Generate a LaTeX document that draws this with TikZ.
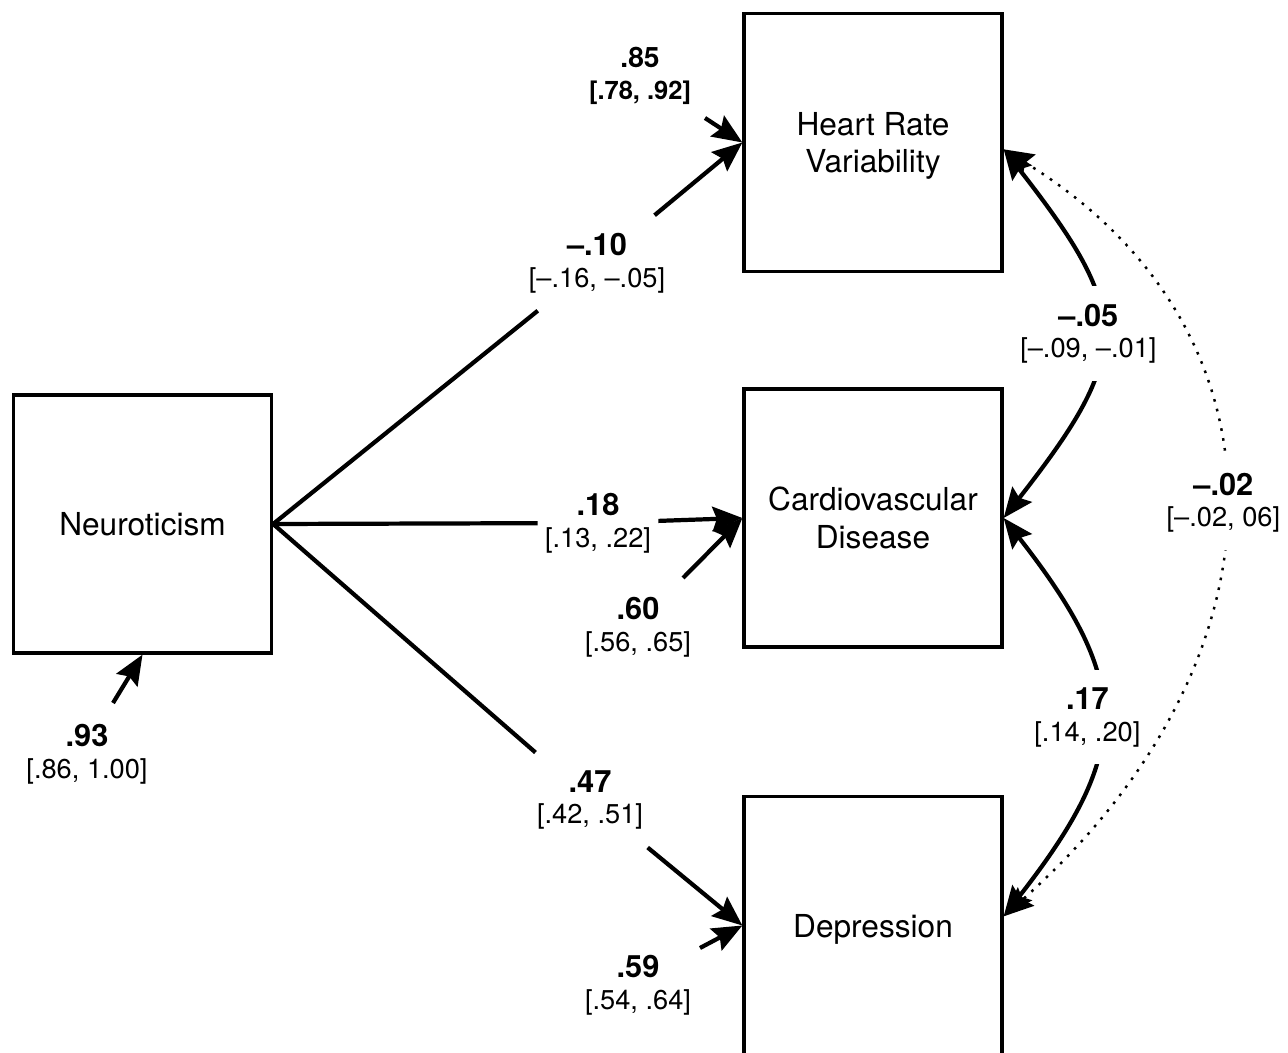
\documentclass[tikz,border=0pt]{standalone}
\usepackage{fontspec}
\setmainfont{TeX Gyre Heros}
\usetikzlibrary{arrows.meta}
\newcommand{\est}[2]{{\fontsize{17.5}{18}\selectfont\bfseries #1}\\{#2}}

\begin{document}
\begin{tikzpicture}[x=0.02cm,y=-0.02cm,>={Stealth[length=17pt,width=14pt,inset=2.5pt]},
  var/.style={draw,line width=1.9pt,minimum size=5.16cm,align=center,text depth=0pt,font=\fontsize{18}{21.5}\selectfont},
  est/.style={align=center,font=\fontsize{15.5}{18}\selectfont},
  gap/.style={est,fill=white,inner xsep=4pt,inner ysep=10pt},
  eff/.style={->,line width=2.4pt},
  cov/.style={<->,line width=2.4pt},
  nul/.style={<->,line width=1.4pt,dash pattern=on 1.5pt off 4.2pt}]
\useasboundingbox (0,0) rectangle (1288,1053);
\node[var] (neu) at (142.5,524) {Neuroticism};
\node[var] (hrv) at (873,142.5) {Heart Rate\\Variability};
\node[var] (cvd) at (873,518) {Cardiovascular\\Disease};
\node[var] (dep) at (873,925.5) {Depression};
% paths from neuroticism
\node[gap] (b1) at (597,263) {\est{--.10}{[--.16, --.05]}};
\node[gap] (b2) at (598,523) {\est{.18}{[.13, .22]}};
\node[gap] (b3) at (590,800) {\est{.47}{[.42, .51]}};
\draw[eff] (neu.east) -- (b1) -- (hrv.west);
\draw[eff] (neu.east) -- (b2) -- (cvd.west);
\draw[eff] (neu.east) -- (b3) -- (dep.west);
% residuals
\coordinate (s0) at (113,703);
\coordinate (s1) at (705,118);
\coordinate (s2) at (683,578);
\coordinate (s3) at (700,948);
\node[est] (r0) at (87,754) {\est{.93}{[.86, 1.00]}};
\node[est] (r1) at (640,76) {{\fontsize{16}{18}\selectfont\bfseries .85}\\{\fontsize{14.5}{18}\selectfont\bfseries [.78, .92]}};
\node[est] (r2) at (638,627) {\est{.60}{[.56, .65]}};
\node[est] (r3) at (638,985) {\est{.59}{[.54, .64]}};
\draw[eff] (s0) -- (neu.south);
\draw[eff] (s1) -- (hrv.west);
\draw[eff] (s2) -- (cvd.west);
\draw[eff] (s3) -- (dep.west);
% covariances
\draw[cov] (hrv.-3) .. controls +(129,165) and +(129,-165) .. (cvd.east)
  node[gap,midway,xshift=-0.24cm] (c1) {\est{--.05}{[--.09, --.01]}};
\draw[cov] (cvd.east) .. controls +(129,165) and +(129,-165) .. (dep.4)
  node[gap,midway,xshift=-0.26cm] (c2) {\est{.17}{[.14, .20]}};
\draw[nul] (hrv.-3) .. controls +(293,180) and +(293,-260) .. (dep.4)
  node[gap,midway] (c3) {\est{--.02}{[--.02, 06]}};
\end{tikzpicture}
\end{document}
